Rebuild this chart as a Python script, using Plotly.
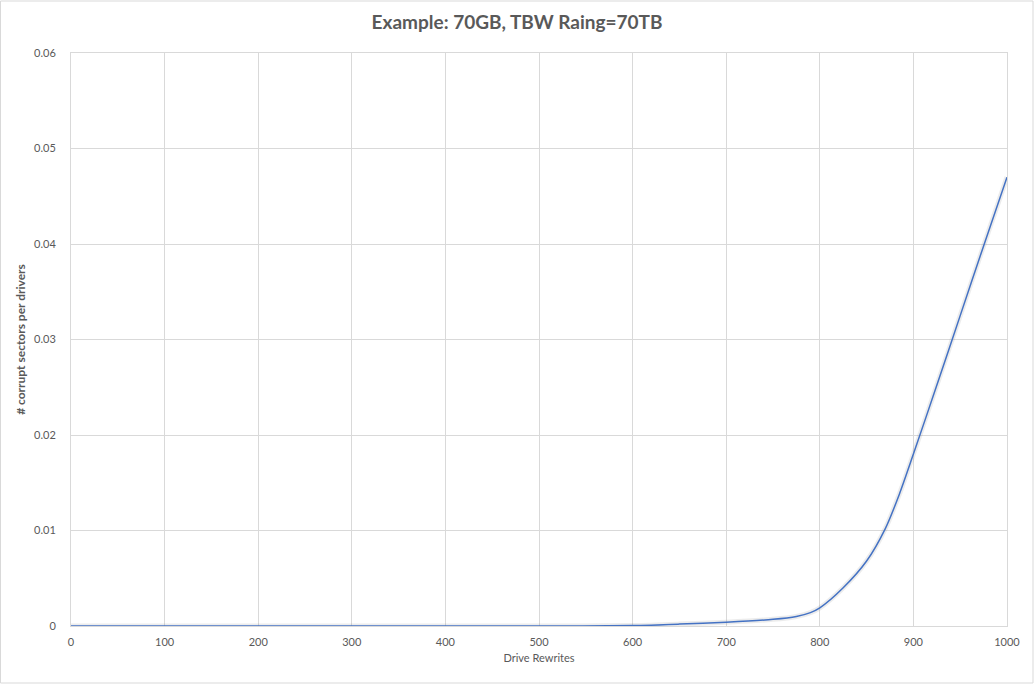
import plotly.graph_objects as go

rewrites = [0, 100, 200, 300, 400, 500, 600, 650, 700, 750, 775, 790, 800, 825, 850, 870, 885, 900, 925, 950, 975, 1000]
corrupt = [0, 0, 0, 0, 0, 0, 0.00005, 0.0002, 0.0004, 0.0007, 0.0010, 0.0014, 0.0019, 0.0040, 0.0068, 0.0102,
           0.0138, 0.0180, 0.0252, 0.0325, 0.0398, 0.0470]

title_text = "Example: 70GB, TBW Raing=70TB"
x_title = "Drive Rewrites"
y_title = "# corrupt sectors per drivers"

fig = go.Figure()
# soft shadow
fig.add_trace(go.Scatter(x=rewrites, y=corrupt, mode="lines",
                         line=dict(color="rgba(120,120,120,0.14)", width=5, shape="spline", smoothing=0.8),
                         hoverinfo="skip", showlegend=False))
fig.add_trace(go.Scatter(x=rewrites, y=corrupt, mode="lines",
                         line=dict(color="#4472C4", width=1.5, shape="spline", smoothing=0.8),
                         showlegend=False))

grid = "#d9d9d9"
tickfont = dict(family="Lato, Liberation Sans, sans-serif", size=11, color="#595959")
fig.update_layout(
    width=1034, height=684,
    paper_bgcolor="white", plot_bgcolor="white",
    margin=dict(l=71, r=27, t=53, b=58),
    title=dict(text="<b>" + title_text + "</b>", x=0.5, xanchor="center", y=0.967, yanchor="middle",
               font=dict(family="Lato, Open Sans, sans-serif", size=19, color="#595959")),
    xaxis=dict(range=[0, 1000], dtick=100, tick0=0, showgrid=True, gridcolor=grid, gridwidth=1,
               zeroline=False, showline=True, linecolor=grid, mirror=True, ticks="",
               tickfont=tickfont, ticklabelstandoff=6,
               title=dict(text=x_title, font=dict(family="Lato, Liberation Sans, sans-serif", size=11, color="#595959"),
                          standoff=7)),
    yaxis=dict(range=[0, 0.06], dtick=0.01, tick0=0, showgrid=True, gridcolor=grid, gridwidth=1,
               zeroline=False, showline=True, linecolor=grid, mirror=True, ticks="",
               tickfont=tickfont, ticklabelstandoff=12,
               title=dict(text="<b>" + y_title + "</b>",
                          font=dict(family="Lato, Liberation Sans, sans-serif", size=12, color="#595959"),
                          standoff=5)),
)
fig.add_shape(type="rect", xref="paper", yref="paper", x0=-70.5/936, x1=1 + 26/936, y0=-57/573, y1=1 + 52/573,
              line=dict(color="#d9d9d9", width=1), fillcolor="rgba(0,0,0,0)", layer="below")

fig.write_html("out.html", config={"displayModeBar": False},
               post_script="document.body.style.margin='0';document.body.style.overflow='hidden';")
